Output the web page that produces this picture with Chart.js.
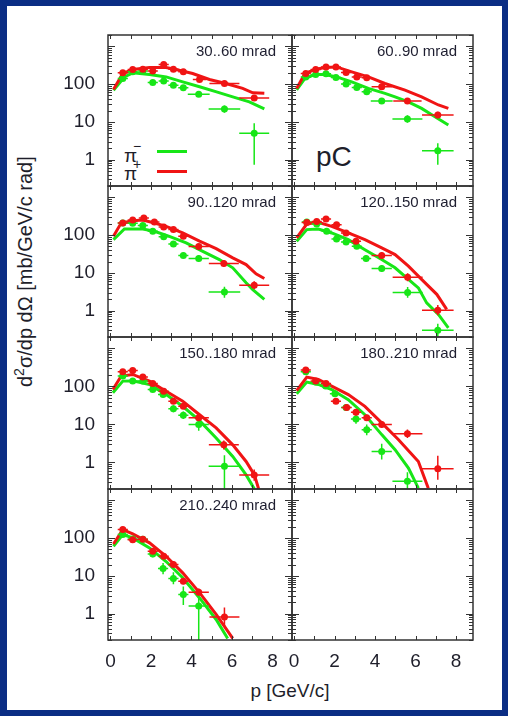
<!DOCTYPE html>
<html>
<head>
<meta charset="utf-8">
<script src="https://cdn.jsdelivr.net/npm/chart.js@4.4.1/dist/chart.umd.min.js"></script>
<style>
html,body{margin:0;padding:0;}
body{width:508px;height:716px;background:#0b2d84;position:relative;overflow:hidden;font-family:"Liberation Sans",Arial,Helvetica,sans-serif;}
#paper{position:absolute;left:7px;top:6px;width:495px;height:704px;background:#fff;}
canvas{position:absolute;}
.lab{position:absolute;font-size:15px;line-height:15px;color:#1e1e30;white-space:nowrap;text-align:right;}
.txt{position:absolute;white-space:nowrap;color:#1e1e2a;}
.sp{position:relative;font-size:14px;top:-11px;left:-4px;}
.legline{position:absolute;height:3px;width:30px;}
</style>
</head>
<body>
<div id="paper"></div>

<div class="txt" style="left:124px;top:145.5px;font-size:19px;line-height:19px;">π<span class="sp">−</span></div>
<div class="txt" style="left:124px;top:164px;font-size:19px;line-height:19px;">π<span class="sp">+</span></div>
<div class="legline" style="left:157px;top:149.5px;background:#17e617;"></div>
<div class="legline" style="left:157px;top:170px;background:#f01414;"></div>
<div class="txt" style="left:316px;top:143px;font-size:28px;line-height:28px;">pC</div>

<div class="txt" style="left:190px;width:200px;text-align:center;top:680.5px;font-size:19px;line-height:19px;">p [GeV/c]</div>
<div class="txt" style="left:14.5px;top:386.7px;font-size:20px;line-height:21px;transform-origin:0 0;transform:rotate(-90deg);">d<span style="position:relative;font-size:14px;top:-8px;">2</span>σ/dp dΩ [mb/GeV/c rad]</div>

<script>
// ---------- labels ----------
const angleBins = ['30..60 mrad', '60..90 mrad', '90..120 mrad', '120..150 mrad',
                   '150..180 mrad', '180..210 mrad', '210..240 mrad'];
const xTickLabels = [0, 2, 4, 6, 8];
const yTickLabels = [1, 10, 100];

// ---------- data: [p, value, p half-width, lower error, upper error] ----------
const piPlusData_30_60 = [
  [0.61,199,0.25,170,232],[1.10,243,0.25,210,280],[1.60,248,0.25,214,286],[2.09,224,0.25,192,260],
  [2.63,331,0.25,288,380],[3.11,249,0.25,215,288],[3.60,211,0.25,182,245],[4.40,133,0.33,114,155],
  [5.63,104,0.74,89,121],[7.10,43,0.74,36,51]];
const piMinusData_30_60 = [
  [0.61,141,0.25,121,164],[1.10,211,0.25,182,245],[1.60,224,0.25,193,260],[2.09,111,0.25,95,129],
  [2.63,120,0.25,103,139],[3.11,94,0.25,81,109],[3.60,80,0.25,69,93],[4.36,54,0.54,46,63],
  [5.63,21.8,0.78,17.5,27],[7.10,5.0,0.74,0.73,9.2]];
const piPlusModel_30_60 = [[0.15,72],[0.61,191],[1.1,243],[1.93,275],[2.75,275],[3.24,243],[4.06,191],
  [4.89,133],[5.7,104],[6.53,77],[7.03,59],[7.6,57]];
const piMinusModel_30_60 = [[0.15,69],[0.69,155],[1.1,199],[1.93,180],[2.75,155],[3.57,115],[4.4,85],
  [5.2,63],[6.04,46],[6.86,34],[7.6,22]];

const piPlusData_60_90 = [
  [0.58,191,0.25,165,222],[1.07,243,0.25,210,280],[1.58,286,0.25,247,330],[2.07,286,0.25,247,330],
  [2.57,203,0.25,175,235],[3.10,155,0.25,134,180],[3.59,147,0.25,127,170],[4.33,85,0.5,73,99],
  [5.60,35.5,0.7,30,42],[7.10,15.2,0.78,12.5,18.5]];
const piMinusData_60_90 = [
  [0.58,155,0.25,134,180],[1.07,180,0.25,155,208],[1.58,187,0.25,161,217],[2.07,150,0.25,129,174],
  [2.57,100,0.25,86,116],[3.10,81,0.25,70,94],[3.59,63,0.25,54,73],[4.33,35.5,0.54,30,42],
  [5.60,11.9,0.74,9.5,15],[7.10,1.73,0.78,0.73,2.7]];
const piPlusModel_60_90 = [[0.13,77],[0.54,191],[1.04,243],[1.53,275],[2.1,285],[2.85,211],[3.67,155],
  [4.49,104],[5.48,69],[6.3,46],[7.13,28],[7.62,22.7]];
const piMinusModel_60_90 = [[0.13,70],[0.54,141],[1.04,180],[1.53,180],[2.1,155],[2.85,115],[3.67,77],
  [4.49,57],[4.99,46],[5.64,34],[6.3,22.7],[6.96,13.7],[7.62,8.3]];

const piPlusData_90_120 = [
  [0.61,209,0.25,180,242],[1.10,250,0.25,216,290],[1.65,284,0.25,245,330],[2.17,223,0.25,192,258],
  [2.63,164,0.25,141,190],[3.11,140,0.25,121,162],[3.60,93,0.25,80,108],[4.36,50,0.5,43,58],
  [5.60,17.7,0.74,14.5,21.5],[7.10,4.7,0.74,3.7,6.0]];
const piMinusData_90_120 = [
  [0.61,209,0.25,180,242],[1.10,205,0.25,177,238],[1.60,181,0.25,156,210],[2.09,126,0.25,109,146],
  [2.63,90,0.25,77,104],[3.11,58,0.25,50,67],[3.60,29,0.25,25,34],[4.36,24,0.5,20,29],
  [5.63,3.1,0.78,2.2,4.3]];
const piPlusModel_90_120 = [[0.15,93],[0.53,209],[1.1,241],[1.6,250],[2.17,209],[2.75,171],[3.57,114],
  [4.4,69],[5.22,44],[6.04,25],[6.7,16.6],[7.19,9.4],[7.6,7.1]];
const piMinusModel_90_120 = [[0.15,76],[0.69,145],[1.6,145],[2.17,126],[2.91,93],[3.74,62],[4.56,37],
  [5.38,22.5],[6.04,13.6],[6.7,5.5],[7.03,3.6],[7.6,1.98]];

const piPlusData_120_150 = [
  [0.63,215,0.25,185,250],[1.12,230,0.25,198,267],[1.58,267,0.25,230,310],[2.10,189,0.25,163,219],
  [2.57,114,0.25,98,132],[3.06,69,0.25,59,80],[4.33,29,0.5,24,35],[5.61,7.7,0.74,6.0,9.8],
  [7.10,1.03,0.78,0.75,1.4]];
const piMinusData_120_150 = [
  [0.63,223,0.25,192,259],[1.12,197,0.25,170,229],[1.61,126,0.25,109,146],[2.10,79,0.25,68,92],
  [2.57,66,0.25,57,77],[3.10,51,0.25,43,60],[3.56,24,0.25,20,29],[4.33,13,0.5,10.5,16],
  [5.61,3.0,0.74,2.2,4.2],[7.10,0.30,0.78,0.2,0.45]];
const piPlusModel_120_150 = [[0.13,84],[0.63,197],[1.2,218],[1.86,171],[2.68,114],[3.5,76],[4.33,46],
  [4.99,30.5],[5.65,15],[6.3,6.7],[7.05,2.7],[7.54,1.08]];
const piMinusModel_120_150 = [[0.13,69],[0.63,140],[1.2,145],[1.86,114],[2.68,76],[3.5,41],[4.33,22.5],
  [4.99,13.6],[5.65,6.7],[6.14,4.0],[6.55,1.6],[7.13,0.79],[7.62,0.35]];

const piPlusData_150_180 = [
  [0.61,244,0.25,210,283],[1.10,264,0.25,228,306],[1.60,176,0.25,152,204],[2.09,120,0.25,103,139],
  [2.63,75,0.25,65,87],[3.11,41,0.25,35,48],[3.60,30,0.25,26,35],[4.36,14.9,0.5,12.3,18],
  [5.60,2.9,0.74,2.2,3.8],[7.10,0.47,0.74,0.33,0.65]];
const piMinusData_150_180 = [
  [0.61,187,0.25,161,217],[1.10,138,0.25,119,160],[1.60,138,0.25,119,160],[2.09,83,0.25,71,96],
  [2.60,61,0.25,52,71],[3.11,26,0.25,21,32],[3.60,17.5,0.25,14,22],[4.36,9.9,0.5,6.8,14.5],
  [5.63,0.79,0.78,0.2,1.55]];
const piPlusModel_150_180 = [[0.12,83],[0.53,187],[1.1,207],[1.93,138],[2.75,75],[3.57,41],[4.4,18],
  [5.22,8.1],[6.04,2.9],[6.7,1.06],[7.11,0.47],[7.32,0.2]];
const piMinusModel_150_180 = [[0.12,68],[0.61,138],[1.1,140],[1.93,113],[2.75,61],[3.57,30],[4.4,12.6],
  [5.22,4.4],[6.04,1.44],[6.7,0.47],[7.11,0.2]];

const piPlusData_180_210 = [
  [0.58,269,0.25,232,312],[1.07,138,0.25,119,160],[1.58,120,0.25,103,139],[2.07,41,0.25,35,48],
  [2.60,28,0.25,24,33],[3.06,21,0.25,18,25],[3.59,14.9,0.25,12.5,18],[4.33,9.9,0.5,8.2,12],
  [5.60,5.7,0.74,4.4,7.4],[7.10,0.68,0.78,0.35,1.5]];
const piMinusData_180_210 = [
  [0.58,244,0.25,210,283],[1.07,130,0.25,112,151],[1.56,102,0.25,88,118],[2.02,64,0.25,55,74],
  [2.57,28,0.25,23,34],[3.06,14,0.25,10.5,18.5],[3.59,7.3,0.25,5.2,10],[4.33,1.95,0.5,1.2,3.1],
  [5.60,0.32,0.74,0.2,0.55]];
const piPlusModel_180_210 = [[0.13,78],[0.63,176],[1.2,153],[1.86,102],[2.68,61],[3.5,30],[4.33,11],
  [5.15,4.0],[6.14,1.06],[6.63,0.21]];
const piMinusModel_180_210 = [[0.13,64],[0.63,130],[1.2,113],[1.86,83],[2.68,45],[3.5,18],[4.33,5.4],
  [4.99,2.17],[5.65,0.71],[6.14,0.21]];

const piPlusData_210_240 = [
  [0.61,170,0.25,146,197],[1.10,91,0.25,78,106],[1.60,94,0.25,81,109],[2.09,45,0.25,39,52],
  [2.63,33,0.25,28,39],[3.11,20,0.25,17,24],[3.60,7.2,0.25,6.0,8.6],[4.36,3.7,0.5,3.0,4.6],
  [5.63,0.81,0.74,0.45,1.45]];
const piMinusData_210_240 = [
  [0.61,124,0.25,107,144],[1.10,95,0.25,82,110],[1.60,94,0.25,78,113],[2.09,38,0.25,31,46],
  [2.60,15.6,0.25,11,22],[3.11,8.5,0.25,6,12.5],[3.60,3.2,0.25,1.7,5.2],[4.36,1.58,0.5,0.2,3.5]];
const piPlusModel_210_240 = [[0.15,70],[0.61,167],[1.1,129],[1.93,75],[2.75,33],[3.57,12],[4.4,3.6],
  [5.22,0.95],[6.04,0.22]];
const piMinusModel_210_240 = [[0.15,61],[0.61,124],[1.1,101],[1.93,55],[2.75,24],[3.57,8.9],[4.4,2.6],
  [5.22,0.70],[5.79,0.22]];

// panel list: [pi- data, pi+ data, pi- model, pi+ model]
const panels = [
  [piMinusData_30_60, piPlusData_30_60, piMinusModel_30_60, piPlusModel_30_60],
  [piMinusData_60_90, piPlusData_60_90, piMinusModel_60_90, piPlusModel_60_90],
  [piMinusData_90_120, piPlusData_90_120, piMinusModel_90_120, piPlusModel_90_120],
  [piMinusData_120_150, piPlusData_120_150, piMinusModel_120_150, piPlusModel_120_150],
  [piMinusData_150_180, piPlusData_150_180, piMinusModel_150_180, piPlusModel_150_180],
  [piMinusData_180_210, piPlusData_180_210, piMinusModel_180_210, piPlusModel_180_210],
  [piMinusData_210_240, piPlusData_210_240, piMinusModel_210_240, piPlusModel_210_240],
  null
];

// ---------- style / layout ----------
Chart.defaults.font.family = "'Liberation Sans', Arial, Helvetica, sans-serif";
const GREEN = '#17e617';
const RED = '#f01414';
const FRAME = '#333333';
const TEXT = '#1e1e2a';
const COL_X = [108, 292, 473];
const ROW_Y = [35, 186, 337, 489, 640];
const X_PER_GEV = 20.25;
const X_START = [-0.12, -0.1];

const toPts = arr => arr.map(a => ({x: a[0], y: a[1], ex: a[2], lo: a[3], hi: a[4]}));
const toLine = arr => arr.map(a => ({x: a[0], y: a[1]}));

const errorBars = {
  id: 'errorBars',
  beforeDatasetDraw(chart, args) {
    const ds = chart.data.datasets[args.index];
    if (!ds.errorBars) return;
    const {ctx, chartArea: ca} = chart;
    const xs = chart.scales.x, ys = chart.scales.y;
    ctx.save();
    ctx.beginPath();
    ctx.rect(ca.left, ca.top, ca.right - ca.left, ca.bottom - ca.top);
    ctx.clip();
    ctx.strokeStyle = ds.errorColor;
    ctx.lineWidth = 1.5;
    ds.data.forEach(d => {
      const px = xs.getPixelForValue(d.x), py = ys.getPixelForValue(d.y);
      ctx.beginPath();
      ctx.moveTo(xs.getPixelForValue(d.x - d.ex), py);
      ctx.lineTo(xs.getPixelForValue(d.x + d.ex), py);
      ctx.moveTo(px, ys.getPixelForValue(d.lo));
      ctx.lineTo(px, ys.getPixelForValue(d.hi));
      ctx.stroke();
    });
    ctx.restore();
  }
};

const frameTicks = {
  id: 'frameTicks',
  afterDraw(chart) {
    const {ctx, chartArea: ca} = chart;
    const xs = chart.scales.x, ys = chart.scales.y;
    ctx.save();
    ctx.strokeStyle = FRAME;
    ctx.lineWidth = 1;
    ctx.beginPath();
    for (let p = Math.ceil(xs.min); p <= xs.max; p++) {
      const px = Math.round(xs.getPixelForValue(p)) + 0.5;
      ctx.moveTo(px, ca.bottom); ctx.lineTo(px, ca.bottom - 4);
      ctx.moveTo(px, ca.top); ctx.lineTo(px, ca.top + 4);
    }
    for (let e = -1; e <= 3; e++) {
      for (let m = 1; m <= 9; m++) {
        const v = m * Math.pow(10, e);
        if (v < ys.min || v > ys.max) continue;
        const py = Math.round(ys.getPixelForValue(v)) + 0.5;
        const L = m === 1 ? 7 : 4;
        ctx.moveTo(ca.left, py); ctx.lineTo(ca.left + L, py);
        ctx.moveTo(ca.right, py); ctx.lineTo(ca.right - L, py);
      }
    }
    ctx.stroke();
    ctx.lineWidth = 1.5;
    ctx.strokeRect(ca.left, ca.top, ca.right - ca.left, ca.bottom - ca.top);
    ctx.restore();
  }
};

panels.forEach((pn, i) => {
  const col = i % 2, row = Math.floor(i / 2);
  const x0 = COL_X[col], x1 = COL_X[col + 1], y0 = ROW_Y[row], y1 = ROW_Y[row + 1];
  const showY = col === 0, showX = row === 3;
  const padL = showY ? 60 : 8, padR = 6, padT = 6, padB = showX ? 38 : 6;
  const cv = document.createElement('canvas');
  cv.width = x1 - x0 + padL + padR;
  cv.height = y1 - y0 + padT + padB;
  cv.style.left = (x0 - padL) + 'px';
  cv.style.top = (y0 - padT) + 'px';
  document.body.appendChild(cv);

  const datasets = [];
  if (pn) {
    datasets.push(
      {data: toLine(pn[2]), showLine: true, borderColor: GREEN, borderWidth: 3, pointRadius: 0, tension: 0, clip: 0, order: 4},
      {data: toLine(pn[3]), showLine: true, borderColor: RED, borderWidth: 3, pointRadius: 0, tension: 0, clip: 0, order: 3},
      {data: toPts(pn[0]), showLine: false, pointRadius: 3.5, pointBackgroundColor: GREEN, pointBorderWidth: 0,
       errorBars: true, errorColor: GREEN, clip: 0, order: 2},
      {data: toPts(pn[1]), showLine: false, pointRadius: 3.5, pointBackgroundColor: RED, pointBorderWidth: 0,
       errorBars: true, errorColor: RED, clip: 0, order: 1}
    );
  }

  new Chart(cv, {
    type: 'scatter',
    data: {datasets},
    options: {
      responsive: false,
      animation: false,
      events: [],
      layout: {padding: {left: showY ? 0 : padL, right: padR, top: padT, bottom: showX ? 0 : padB}},
      plugins: {legend: {display: false}, tooltip: {enabled: false}},
      scales: {
        x: {
          type: 'linear',
          min: X_START[col],
          max: X_START[col] + (x1 - x0) / X_PER_GEV,
          display: showX,
          grid: {display: false, drawTicks: false, drawOnChartArea: false},
          border: {display: false},
          afterBuildTicks: s => { s.ticks = xTickLabels.map(v => ({value: v})); },
          afterFit: s => { s.height = showX ? padB : 0; s.paddingLeft = 0; s.paddingRight = 0; },
          ticks: {color: TEXT, font: {size: 19}, padding: 10, autoSkip: false, maxRotation: 0,
                  callback: v => String(v)}
        },
        y: {
          type: 'logarithmic',
          min: 0.2,
          max: 2000,
          display: showY,
          grid: {display: false, drawTicks: false, drawOnChartArea: false},
          border: {display: false},
          afterBuildTicks: s => { s.ticks = yTickLabels.map(v => ({value: v})); },
          afterFit: s => { s.width = showY ? padL : 0; s.paddingTop = 0; s.paddingBottom = 0; },
          ticks: {color: TEXT, font: {size: 19}, padding: 13, autoSkip: false, callback: v => String(v)}
        }
      }
    },
    plugins: [errorBars, frameTicks]
  });

  if (i < angleBins.length) {
    const lab = document.createElement('div');
    lab.className = 'lab';
    lab.textContent = angleBins[i];
    lab.style.right = (508 - (x1 - 16)) + 'px';
    lab.style.top = (y0 + 8) + 'px';
    document.body.appendChild(lab);
  }
});
</script>
</body>
</html>
